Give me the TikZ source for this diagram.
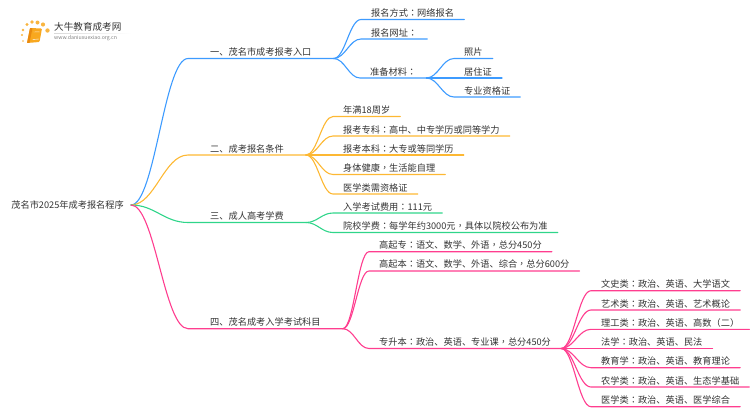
\documentclass[tikz,border=0pt]{standalone}
\usepackage{fontspec}
\usetikzlibrary{calc}
\setmainfont{Noto Sans CJK SC}
\newfontfamily\tcfont{Noto Sans CJK TC}
\newcommand{\maohao}{{\tcfont ：}}
\newcommand{\douhao}{{\tcfont ，}}
\definecolor{txtgray}{HTML}{333333}
\definecolor{lineblue}{HTML}{3D9BFF}
\definecolor{lineorange}{HTML}{FDB833}
\definecolor{linegreen}{HTML}{2FD58A}
\definecolor{linepink}{HTML}{FF3D8F}
\definecolor{logoorange}{HTML}{F8A81F}
\definecolor{logodark}{HTML}{E98A10}
\tikzset{
  txt/.style={font=\fontsize{9.2}{11}\selectfont,text=txtgray,inner ysep=2pt},
  rootnode/.style={txt,anchor=east,inner xsep=7pt},
  branch/.style={txt,anchor=south west,inner xsep=22pt},
  leaf/.style={txt,anchor=south west,inner xsep=10pt},
  link/.style={line width=1.1pt,line cap=round},
  curve/.style={to path={let \p1=(\tikztostart),\p2=(\tikztotarget),\n1={0.42*(\x2-\x1)} in
    .. controls +(\n1,0) and +(-\n1,0) .. (\tikztotarget)}},
  dot/.style={fill=logoorange,draw=none,opacity=.85}
}
\begin{document}
\begin{tikzpicture}[x=1pt,y=-1pt,line join=round]
  \useasboundingbox (0,0) rectangle (750,410);

  % logo
  \begin{scope}
    \fill[dot] (22,35) circle(1.1);
    \fill[dot] (23,30) circle(1.3);
    \fill[dot] (27,24.5) circle(1.6);
    \fill[dot] (32,22) circle(1.9);
    \fill[dot] (37.5,22.5) circle(2);
    \fill[dot] (43,24.5) circle(2.1);
    \fill[dot] (47.5,30.5) circle(2.2);
    \fill[dot] (23,41) circle(.9);
    \fill[logoorange,rounded corners=1pt] (30,28) -- (42,28.5) -- (39.5,42) -- (27,43) -- cycle;
    \fill[logodark,rounded corners=.5pt] (30,28) -- (32.5,28.1) -- (29.5,42.8) -- (27,43) -- cycle;
    \draw[white,line width=.4pt] (32.5,39.5) -- (39,39);
    \draw[white!80!logoorange,line width=.4pt] (33.5,32) -- (39.5,31.8);
    \node[inner sep=0,anchor=west,font=\fontsize{9.6}{11}\selectfont,text=txtgray] (logotxt) at (54,26.5) {大牛教育成考网};
    \node[inner sep=0,anchor=west,font=\fontsize{5.2}{6}\selectfont,text=gray] (logourl) at (54,38.5) {www.daniuxuexiao.org.cn};
    \shade[left color=black!15,right color=white,draw=none] (54,33) rectangle (132,33.5);
  \end{scope}

  % root
  \node[rootnode] (root) at (131,205) {茂名市2025年成考报名程序};

  % 一
  \node[branch] (rukou) at (188,58.5) {一、茂名市成考报考入口};
  \draw[link,lineblue] (root.east) to[curve] (rukou.south west) -- (rukou.south east);
  \node[leaf] (fangshi) at (361,19.5) {报名方式\maohao 网络报名};
  \node[leaf] (wangzhi) at (361,39) {报名网址\maohao};
  \node[leaf] (cailiao) at (360,78) {准备材料\maohao};
  \draw[link,lineblue] (rukou.south east) to[curve] (fangshi.south west) -- (fangshi.south east);
  \draw[link,lineblue] (rukou.south east) to[curve] (wangzhi.south west) -- (wangzhi.south east);
  \draw[link,lineblue] (rukou.south east) to[curve] (cailiao.south west) -- (cailiao.south east);
  \node[leaf] (zhaopian) at (454,58.5) {照片};
  \node[leaf] (juzhu) at (454,78) {居住证};
  \node[leaf] (zige) at (454,97) {专业资格证};
  \draw[link,lineblue] (cailiao.south east) to[curve] (zhaopian.south west) -- (zhaopian.south east);
  \draw[link,lineblue] (cailiao.south east) to[curve] (juzhu.south west) -- (juzhu.south east);
  \draw[link,lineblue] (cailiao.south east) to[curve] (zige.south west) -- (zige.south east);

  % 二
  \node[branch] (tiaojian) at (188,155) {二、成考报名条件};
  \draw[link,lineorange] (root.east) to[curve] (tiaojian.south west) -- (tiaojian.south east);
  \node[leaf] (nianman) at (333,116.5) {年满18周岁};
  \node[leaf] (zhuanke) at (333,136) {报考专科\maohao 高中、中专学历或同等学力};
  \node[leaf] (benke) at (333,155) {报考本科\maohao 大专或等同学历};
  \node[leaf] (shenti) at (333,174.5) {身体健康\douhao 生活能自理};
  \node[leaf] (yixue) at (333,194) {医学类需资格证};
  \draw[link,lineorange] (tiaojian.south east) to[curve] (nianman.south west) -- (nianman.south east);
  \draw[link,lineorange] (tiaojian.south east) to[curve] (zhuanke.south west) -- (zhuanke.south east);
  \draw[link,lineorange] (tiaojian.south east) to[curve] (benke.south west) -- (benke.south east);
  \draw[link,lineorange] (tiaojian.south east) to[curve] (shenti.south west) -- (shenti.south east);
  \draw[link,lineorange] (tiaojian.south east) to[curve] (yixue.south west) -- (yixue.south east);

  % 三
  \node[branch] (xuefei) at (188,222.5) {三、成人高考学费};
  \draw[link,linegreen] (root.east) to[curve] (xuefei.south west) -- (xuefei.south east);
  \node[leaf] (kaoshi) at (333,213) {入学考试费用\maohao 111元};
  \node[leaf] (yuanxiao) at (333,232.5) {院校学费\maohao 每学年约3000元\douhao 具体以院校公布为准};
  \draw[link,linegreen] (xuefei.south east) to[curve] (kaoshi.south west) -- (kaoshi.south east);
  \draw[link,linegreen] (xuefei.south east) to[curve] (yuanxiao.south west) -- (yuanxiao.south east);

  % 四
  \node[branch] (kemu) at (188,328.7) {四、茂名成考入学考试科目};
  \draw[link,linepink] (root.east) to[curve] (kemu.south west) -- (kemu.south east);
  \node[leaf] (gaozhuan) at (369,251.7) {高起专\maohao 语文、数学、外语\douhao 总分450分};
  \node[leaf] (gaoben) at (369,271) {高起本\maohao 语文、数学、外语、综合\douhao 总分600分};
  \node[leaf] (zhuanben) at (369,348.5) {专升本\maohao 政治、英语、专业课\douhao 总分450分};
  \draw[link,linepink] (kemu.south east) to[curve] (gaozhuan.south west) -- (gaozhuan.south east);
  \draw[link,linepink] (kemu.south east) to[curve] (gaoben.south west) -- (gaoben.south east);
  \draw[link,linepink] (kemu.south east) to[curve] (zhuanben.south west) -- (zhuanben.south east);
  \node[leaf] (wenshi) at (591,290.7) {文史类\maohao 政治、英语、大学语文};
  \node[leaf] (yishu) at (591,310) {艺术类\maohao 政治、英语、艺术概论};
  \node[leaf] (ligong) at (591,329.3) {理工类\maohao 政治、英语、高数（二）};
  \node[leaf] (faxue) at (591,348.5) {法学\maohao 政治、英语、民法};
  \node[leaf] (jiaoyu) at (591,367.7) {教育学\maohao 政治、英语、教育理论};
  \node[leaf] (nongxue) at (591,387) {农学类\maohao 政治、英语、生态学基础};
  \node[leaf] (yixuelei) at (591,406.7) {医学类\maohao 政治、英语、医学综合};
  \draw[link,linepink] (zhuanben.south east) to[curve] (wenshi.south west) -- (wenshi.south east);
  \draw[link,linepink] (zhuanben.south east) to[curve] (yishu.south west) -- (yishu.south east);
  \draw[link,linepink] (zhuanben.south east) to[curve] (ligong.south west) -- (ligong.south east);
  \draw[link,linepink] (zhuanben.south east) to[curve] (faxue.south west) -- (faxue.south east);
  \draw[link,linepink] (zhuanben.south east) to[curve] (jiaoyu.south west) -- (jiaoyu.south east);
  \draw[link,linepink] (zhuanben.south east) to[curve] (nongxue.south west) -- (nongxue.south east);
  \draw[link,linepink] (zhuanben.south east) to[curve] (yixuelei.south west) -- (yixuelei.south east);
\end{tikzpicture}
\end{document}
